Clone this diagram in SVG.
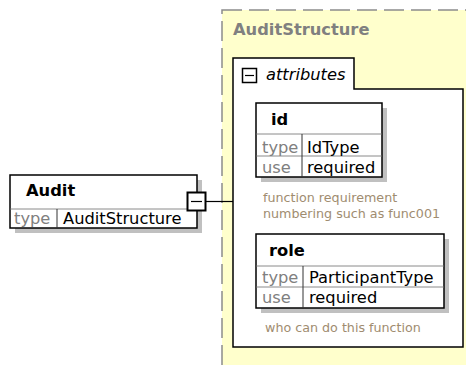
<svg xmlns="http://www.w3.org/2000/svg" width="466" height="365" viewBox="0 0 466 365">
<style>
text{font-family:"DejaVu Sans",Verdana,sans-serif;font-size:16.3px;fill:#000}
.b{font-weight:bold}
.lbl{fill:#808080}
.desc{font-size:12.7px;fill:#a08c70}
.box{fill:#fff;stroke:#000;stroke-width:1.5}
.shadow{fill:#c0c0c0}
.sep{stroke:#8a8a8a;stroke-width:1}
.div{stroke:#333;stroke-width:1}
</style>
<rect width="466" height="365" fill="#fff"/>
<g id="AuditStructure">
<rect x="222" y="10" width="270" height="380" fill="#ffffcc" stroke="#8c8c8c" stroke-width="1.5" stroke-dasharray="20 7"/>
<text x="233" y="35" class="b lbl">AuditStructure</text>
</g>
<g id="attributes">
<path d="M233,58 H354 V89 H463 V347 H233 Z" fill="#fff" stroke="#000" stroke-width="1.5"/>
<rect x="242.5" y="68.5" width="14" height="14" fill="#fff" stroke="#000" stroke-width="1.5"/>
<line x1="245" y1="75.5" x2="254" y2="75.5" stroke="#000" stroke-width="1.2"/>
<text x="266" y="80" font-style="italic">attributes</text>
</g>
<g id="connectors">
<line x1="206" y1="201.5" x2="233" y2="201.5" stroke="#000" stroke-width="1.2"/>
</g>
<g id="Audit">
<rect x="15" y="180" width="187" height="53" class="shadow"/>
<rect x="10" y="175" width="187" height="53" class="box"/>
<line x1="10.5" y1="209" x2="196.5" y2="209" class="sep"/>
<line x1="57" y1="209" x2="57" y2="228" class="div"/>
<text x="26" y="196" class="b">Audit</text>
<text x="14" y="224" class="lbl">type</text>
<text x="63" y="224">AuditStructure</text>
<rect x="187.5" y="192.5" width="18" height="18" fill="#fff" stroke="#000" stroke-width="2"/>
<line x1="191" y1="201.5" x2="202" y2="201.5" stroke="#000" stroke-width="1.2"/>
</g>
<g id="id">
<rect x="261" y="108" width="126" height="74" class="shadow"/>
<rect x="256" y="103" width="126" height="74" class="box"/>
<line x1="256.5" y1="134" x2="381.5" y2="134" class="sep"/>
<line x1="256.5" y1="156" x2="381.5" y2="156" class="sep"/>
<line x1="302" y1="134" x2="302" y2="177" class="div"/>
<text x="271" y="125" class="b">id</text>
<text x="262" y="153" class="lbl">type</text>
<text x="307" y="153">IdType</text>
<text x="262" y="173" class="lbl">use</text>
<text x="307" y="173">required</text>
<text x="263" y="202" class="desc">function requirement</text>
<text x="263" y="218" class="desc">numbering such as func001</text>
</g>
<g id="role">
<rect x="261" y="239" width="188" height="74" class="shadow"/>
<rect x="256" y="234" width="188" height="74" class="box"/>
<line x1="256.5" y1="266" x2="443.5" y2="266" class="sep"/>
<line x1="256.5" y1="287" x2="443.5" y2="287" class="sep"/>
<line x1="303" y1="266" x2="303" y2="308" class="div"/>
<text x="269" y="256" class="b">role</text>
<text x="262" y="283" class="lbl">type</text>
<text x="309" y="283">ParticipantType</text>
<text x="262" y="303" class="lbl">use</text>
<text x="309" y="303">required</text>
<text x="265" y="332" class="desc">who can do this function</text>
</g>
</svg>
